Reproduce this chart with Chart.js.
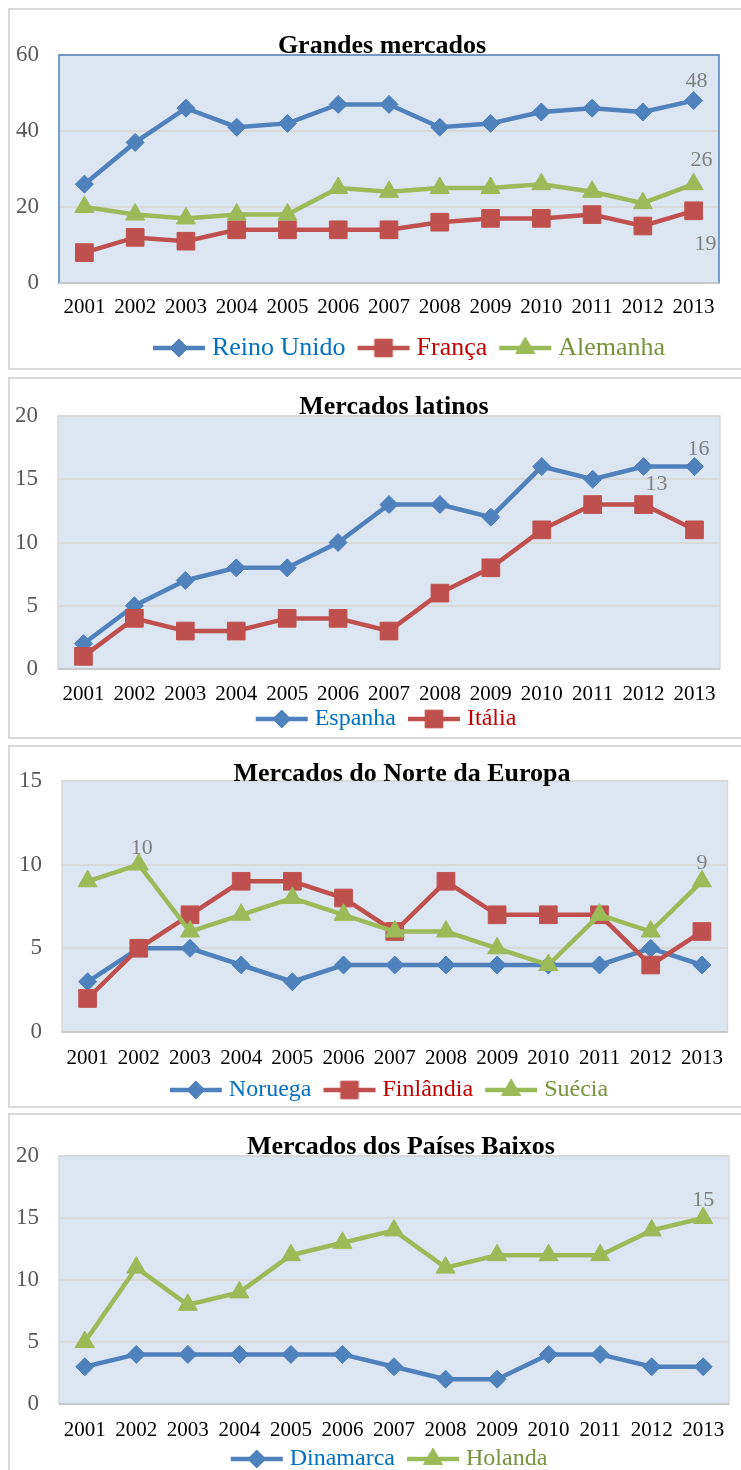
<!DOCTYPE html>
<html>
<head>
<meta charset="utf-8">
<script src="https://cdn.jsdelivr.net/npm/chart.js@4.4.1/dist/chart.umd.min.js"></script>
<style>
  body { margin: 0; background: #fff; width: 741px; height: 1470px; overflow: hidden; position: relative; }
  .caixa { position: absolute; left: 8px; width: 760px; border: 2px solid #d9d9d9; box-sizing: border-box; }
  canvas { position: absolute; left: 10px; }
</style>
</head>
<body>
<div class="caixa" id="b1"></div>
<div class="caixa" id="b2"></div>
<div class="caixa" id="b3"></div>
<div class="caixa" id="b4"></div>
<canvas id="c1"></canvas>
<canvas id="c2"></canvas>
<canvas id="c3"></canvas>
<canvas id="c4"></canvas>
<script>
var anos = ['2001','2002','2003','2004','2005','2006','2007','2008','2009','2010','2011','2012','2013'];

// Grandes mercados
var reinoUnido = [26, 37, 46, 41, 42, 47, 47, 41, 42, 45, 46, 45, 48];
var franca     = [8, 12, 11, 14, 14, 14, 14, 16, 17, 17, 18, 15, 19];
var alemanha   = [20, 18, 17, 18, 18, 25, 24, 25, 25, 26, 24, 21, 26];
var ticksGrandes = [0, 20, 40, 60];

// Mercados latinos
var espanha = [2, 5, 7, 8, 8, 10, 13, 13, 12, 16, 15, 16, 16];
var italia  = [1, 4, 3, 3, 4, 4, 3, 6, 8, 11, 13, 13, 11];
var ticksLatinos = [0, 5, 10, 15, 20];

// Mercados do Norte da Europa
var noruega   = [3, 5, 5, 4, 3, 4, 4, 4, 4, 4, 4, 5, 4];
var finlandia = [2, 5, 7, 9, 9, 8, 6, 9, 7, 7, 7, 4, 6];
var suecia    = [9, 10, 6, 7, 8, 7, 6, 6, 5, 4, 7, 6, 9];
var ticksNorte = [0, 5, 10, 15];

// Mercados dos Paises Baixos
var dinamarca = [3, 4, 4, 4, 4, 4, 3, 2, 2, 4, 4, 3, 3];
var holanda   = [5, 11, 8, 9, 12, 13, 14, 11, 12, 12, 12, 14, 15];
var ticksBaixos = [0, 5, 10, 15, 20];

var FONTE = '"Liberation Serif", "Times New Roman", serif';
var AZUL = {line: '#4F81BD', text: '#0070C0', shape: 'rectRot', r: 9};
var VERMELHO = {line: '#C0504D', text: '#C00000', shape: 'rect', r: 12.5};
var VERDE = {line: '#9BBB59', text: '#77933C', shape: 'triangle', r: 11};

function icone(st, w, h) {
  var c = document.createElement('canvas');
  c.width = w; c.height = h;
  var g = c.getContext('2d');
  g.strokeStyle = st.line; g.fillStyle = st.line;
  g.lineWidth = 4.5;
  g.beginPath(); g.moveTo(2, h / 2); g.lineTo(w - 2, h / 2); g.stroke();
  g.lineWidth = 1;
  Chart.helpers.drawPoint(g, {pointStyle: st.shape, radius: st.r, borderWidth: 1, rotation: 0}, w / 2, h / 2);
  return c;
}

function painel(cvId, boxId, cfg) {
  var topo = cfg.caixa[0] + 2;
  var alt = cfg.caixa[1] - cfg.caixa[0] - 4;
  var box = document.getElementById(boxId);
  box.style.top = cfg.caixa[0] + 'px';
  box.style.height = (cfg.caixa[1] - cfg.caixa[0]) + 'px';
  var cv = document.getElementById(cvId);
  cv.style.top = topo + 'px';
  cv.width = 731; cv.height = alt;

  var fs = cfg.legendaFonte;
  var o = fs / 2 - 5;           // icon overflow
  var p = o + 10;               // legend item padding
  var iconW = 56;
  var xPad = (cfg.xLabelY - topo) - (cfg.plot.b - topo) - 21 * 1.2 / 2;
  var xH = xPad + 28;
  var legH = fs + p + 10;
  var padBottom = alt - (cfg.plot.b - topo) - xH - legH;
  var legTop = (cfg.legendaY - topo) - p - fs / 2;
  var yW = cfg.plot.l - 10;
  var ticks = cfg.ticks;

  var icones = cfg.series.map(function (s) { return icone(s.estilo, iconW, 28); });
  var n = cfg.series.length;

  var extras = {
    id: 'extras',
    afterLayout: function (chart) {
      var lg = chart.legend;
      var lw = lg.lineWidths[0];
      var start = (lg.left + p + lg.right - lw) / 2;
      var c = start + (lw - p - o) / 2;
      var d = (cfg.legendaX - 10) - c;
      lg.left += d; lg.right += d;
      var h = lg.bottom - lg.top;
      lg.top = legTop; lg.bottom = legTop + h;
    },
    beforeDraw: function (chart) {
      var a = chart.chartArea, ctx = chart.ctx;
      ctx.save();
      ctx.fillStyle = '#DCE6F2';
      ctx.fillRect(a.left, a.top, a.right - a.left, a.bottom - a.top);
      ctx.restore();
    },
    beforeDatasetsDraw: function (chart) {
      var a = chart.chartArea, ctx = chart.ctx;
      ctx.save();
      ctx.strokeStyle = cfg.moldura;
      ctx.lineWidth = 1.5;
      ctx.strokeRect(a.left, a.top, a.right - a.left, a.bottom - a.top);
      ctx.strokeStyle = '#C8C8C8';
      ctx.lineWidth = 2;
      ctx.beginPath(); ctx.moveTo(a.left, a.bottom); ctx.lineTo(a.right, a.bottom); ctx.stroke();
      ctx.fillStyle = '#000';
      ctx.font = 'bold 26px ' + FONTE;
      ctx.textAlign = 'center';
      ctx.textBaseline = 'middle';
      ctx.fillText(cfg.titulo, cfg.tituloX - 10, cfg.tituloY - topo);
      ctx.restore();
    },
    afterDatasetsDraw: function (chart) {
      var ctx = chart.ctx;
      ctx.save();
      ctx.font = '22px ' + FONTE;
      ctx.fillStyle = '#7F7F7F';
      ctx.textAlign = 'center';
      ctx.textBaseline = 'middle';
      cfg.rotulos.forEach(function (r) {
        var v = chart.data.datasets[r.s].data[r.i];
        var x = chart.scales.x.getPixelForValue(r.i);
        var y = chart.scales.y.getPixelForValue(v);
        ctx.fillText(String(v), x + r.dx, y + r.dy);
      });
      ctx.restore();
    }
  };

  new Chart(cv.getContext('2d'), {
    type: 'line',
    data: {
      labels: anos,
      datasets: cfg.series.map(function (s, i) {
        return {
          label: s.nome,
          data: s.dados,
          borderColor: s.estilo.line,
          backgroundColor: s.estilo.line,
          borderWidth: 4.5,
          tension: 0,
          pointStyle: s.estilo.shape,
          pointRadius: s.estilo.r,
          pointBackgroundColor: s.estilo.line,
          pointBorderColor: s.estilo.line,
          pointBorderWidth: 1,
          order: n - i
        };
      })
    },
    options: {
      responsive: false,
      animation: false,
      devicePixelRatio: 1,
      layout: { padding: { left: 0, right: 741 - cfg.plot.r, top: cfg.plot.t - topo, bottom: padBottom } },
      scales: {
        x: {
          type: 'category',
          offset: true,
          grid: { display: false, drawTicks: false },
          border: { display: false },
          ticks: { color: '#000', font: { family: FONTE, size: 21 }, padding: xPad, maxRotation: 0, autoSkip: false },
          afterFit: function (s) { s.height = xH; }
        },
        y: {
          min: ticks[0],
          max: ticks[ticks.length - 1],
          grid: { color: '#D9D9D9', lineWidth: 2, drawTicks: false },
          border: { display: false },
          ticks: { color: '#595959', font: { family: FONTE, size: 23 }, padding: 20 },
          afterBuildTicks: function (s) { s.ticks = ticks.map(function (v) { return {value: v}; }); },
          afterFit: function (s) { s.width = yW; }
        }
      },
      plugins: {
        title: { display: false },
        tooltip: { enabled: false },
        legend: {
          position: 'bottom',
          labels: {
            usePointStyle: true,
            pointStyleWidth: iconW - 2 * o,
            padding: p,
            font: { family: FONTE, size: fs },
            generateLabels: function (chart) {
              return chart.data.datasets.map(function (ds, i) {
                return {
                  text: ds.label,
                  fontColor: cfg.series[i].estilo.text,
                  pointStyle: icones[i],
                  fillStyle: 'rgba(0,0,0,0)',
                  strokeStyle: 'rgba(0,0,0,0)',
                  lineWidth: 0,
                  hidden: false,
                  datasetIndex: i
                };
              });
            }
          }
        }
      }
    },
    plugins: [extras]
  });
}

painel('c1', 'b1', {
  titulo: 'Grandes mercados', tituloX: 382, tituloY: 46,
  caixa: [8, 370], plot: {l: 59, r: 719, t: 55, b: 283},
  xLabelY: 307, legendaY: 348, legendaX: 408, legendaFonte: 26,
  moldura: '#4F81BD', ticks: ticksGrandes,
  series: [
    {nome: 'Reino Unido', dados: reinoUnido, estilo: AZUL},
    {nome: 'França', dados: franca, estilo: VERMELHO},
    {nome: 'Alemanha', dados: alemanha, estilo: VERDE}
  ],
  rotulos: [{s: 0, i: 12, dx: 3, dy: -19}, {s: 2, i: 12, dx: 8, dy: -24}, {s: 1, i: 12, dx: 12, dy: 33}]
});

painel('c2', 'b2', {
  titulo: 'Mercados latinos', tituloX: 394, tituloY: 407,
  caixa: [377, 739], plot: {l: 58, r: 720, t: 416, b: 669},
  xLabelY: 694, legendaY: 719, legendaX: 385, legendaFonte: 24,
  moldura: '#D9D9D9', ticks: ticksLatinos,
  series: [
    {nome: 'Espanha', dados: espanha, estilo: AZUL},
    {nome: 'Itália', dados: italia, estilo: VERMELHO}
  ],
  rotulos: [{s: 0, i: 12, dx: 4, dy: -17}, {s: 1, i: 11, dx: 13, dy: -20}]
});

painel('c3', 'b3', {
  titulo: 'Mercados do Norte da Europa', tituloX: 402, tituloY: 774,
  caixa: [745, 1108], plot: {l: 62, r: 730, t: 776, b: 1032},
  xLabelY: 1058, legendaY: 1090, legendaX: 388, legendaFonte: 24,
  moldura: '#D9D9D9', ticks: ticksNorte,
  series: [
    {nome: 'Noruega', dados: noruega, estilo: AZUL},
    {nome: 'Finlândia', dados: finlandia, estilo: VERMELHO},
    {nome: 'Suécia', dados: suecia, estilo: VERDE}
  ],
  rotulos: [{s: 2, i: 1, dx: 3, dy: -16}, {s: 2, i: 12, dx: 0, dy: -18}]
});

painel('c4', 'b4', {
  titulo: 'Mercados dos Países Baixos', tituloX: 401, tituloY: 1147,
  caixa: [1113, 1480], plot: {l: 59, r: 731, t: 1156, b: 1404},
  xLabelY: 1430, legendaY: 1459, legendaX: 388, legendaFonte: 24,
  moldura: '#D9D9D9', ticks: ticksBaixos,
  series: [
    {nome: 'Dinamarca', dados: dinamarca, estilo: AZUL},
    {nome: 'Holanda', dados: holanda, estilo: VERDE}
  ],
  rotulos: [{s: 1, i: 12, dx: 0, dy: -18}]
});
</script>
</body>
</html>
